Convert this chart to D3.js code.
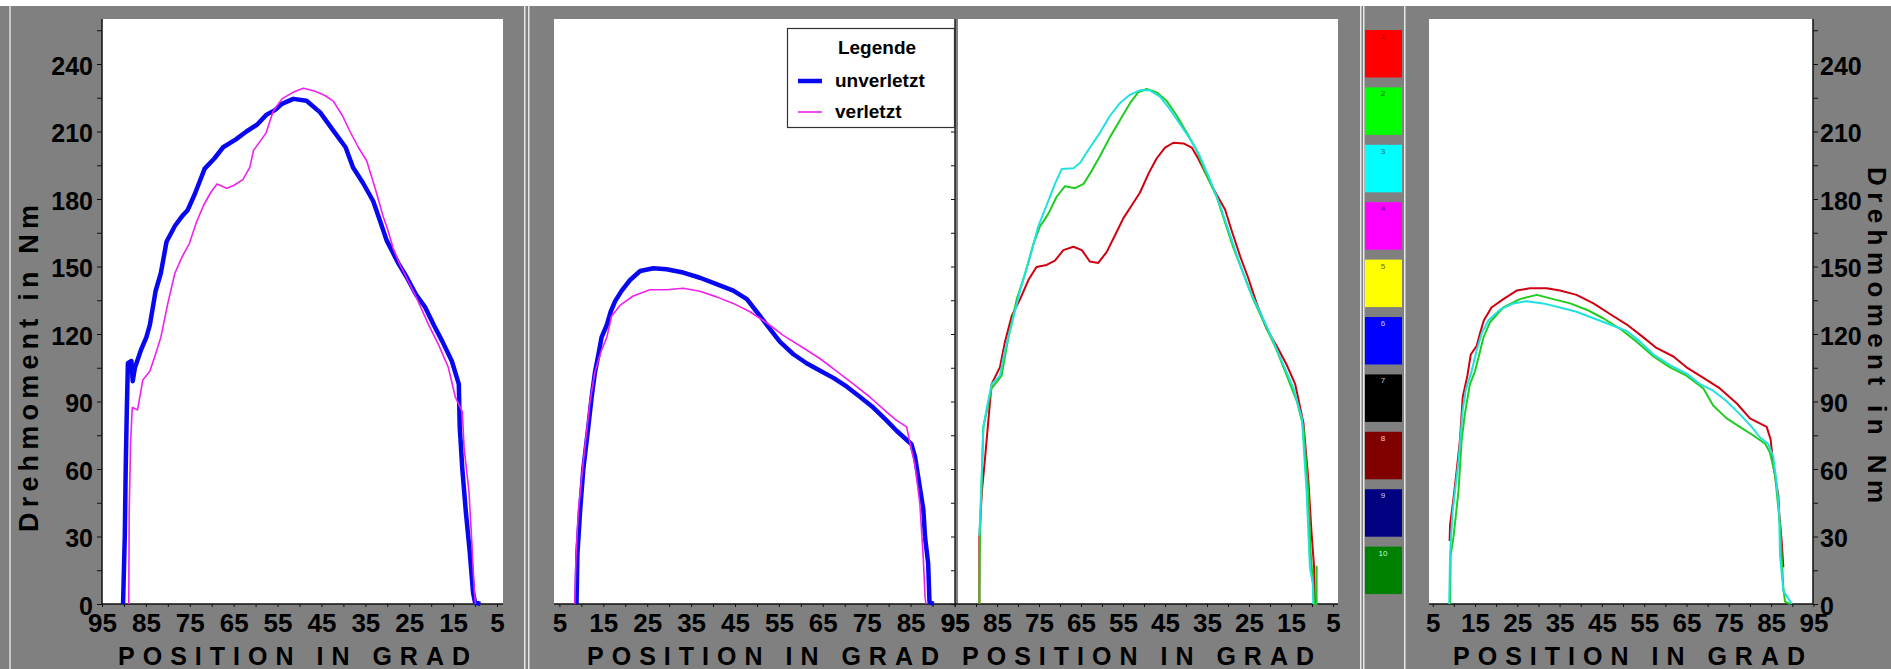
<!DOCTYPE html>
<html>
<head>
<meta charset="utf-8">
<script src="https://cdn.jsdelivr.net/npm/d3@7"></script>
<style>
  body { margin: 0; background: #fff; }
  svg { display: block; }
  text { font-family: "Liberation Sans", Arial, sans-serif; font-weight: bold; }
</style>
</head>
<body>
<div id="chart"></div>
<script>
// tick labels
var xTickLabels = [5, 15, 25, 35, 45, 55, 65, 75, 85, 95];
var yTickLabels = [0, 30, 60, 90, 120, 150, 180, 210, 240];
var legendNames = ["unverletzt", "verletzt"];
var swatchLabels = ["1", "2", "3", "4", "5", "6", "7", "8", "9", "10"];
var swatchColors = ["#ff0000", "#00ff00", "#00ffff", "#ff00ff", "#ffff00", "#0000ff", "#000000", "#800000", "#000080", "#008000"];
var swatchTextColors = ["#900", "#060", "#066", "#606", "#660", "#ccf", "#ccc", "#fcc", "#ccf", "#cfc"];

// series: [position in grad, torque in Nm]
var p1Unverletzt = [[90.2,0],[89.8,31],[89.6,60],[89.35,86],[89.1,107],[88.3,108],[88.0,99],[87.5,105],[86.1,113],[84.9,118.5],[84.1,124],[82.8,139],[81.6,147],[80.3,161],[78.4,168],[76.7,172.5],[75.5,175],[73.9,182],[72.7,188],[71.6,193.5],[69.4,198],[67.4,203],[64.5,206.5],[62.1,210],[59.7,213],[57.5,217.5],[55.6,219.5],[54.0,222.3],[51.4,224.5],[48.4,223.7],[45.3,218.5],[42.3,210.4],[39.5,203],[37.8,194],[35.5,187],[33.2,179],[31.6,170],[30.15,161.6],[27.5,151.5],[25.5,145],[23.45,137.5],[21.4,132],[19.4,124],[17.4,116.5],[15.3,108],[13.7,97.7],[13.5,79],[12.9,60],[12.1,41],[11.25,24],[10.45,5],[10.0,0.7],[8.8,0]];
var p1Verletzt = [[88.9,0],[88.8,41],[88.5,71],[88.1,87.3],[86.9,86.3],[85.7,99.6],[84.1,103.4],[82.8,111],[81.6,118.5],[80.0,133.6],[78.4,147],[76.7,154.5],[75.1,160.2],[73.5,169.6],[71.9,177],[70.2,183],[68.8,186.7],[66.6,184.8],[65.0,186],[62.9,188.6],[61.3,194.2],[60.5,201.5],[57.6,209.4],[56.0,219],[54.0,224.5],[51.5,227.4],[49.1,229.2],[46.6,228],[44.2,226],[42.3,223.5],[40.2,217],[38.5,210],[36.6,203],[34.7,197],[32.8,185],[30.9,172],[30.0,167],[28.7,158.3],[27.1,150.7],[25.1,143],[23.0,134.6],[20.6,124.2],[18.2,114.7],[16.1,105.2],[14.5,92],[12.9,85.4],[12.5,69.3],[11.4,50.3],[10.85,31.4],[10.2,6.8],[9.9,0]];
var p2Unverletzt = [[8.9,0],[9.1,22],[9.7,41],[10.45,60],[11.6,79],[12.35,92],[13.1,103],[13.9,111],[14.6,118.5],[15.8,124],[16.7,130],[17.7,134.6],[19.2,139.3],[21.1,144],[23.4,148],[26.4,149.2],[29.4,148.8],[33.2,147.3],[37.0,145],[40.8,142.2],[44.6,139.3],[47.7,135.5],[49.9,130],[52.2,124.2],[55.2,116.6],[58.3,111],[61.3,107],[64.4,103.7],[67.4,100.5],[70.4,96.7],[73.5,92],[76.5,87.3],[79.5,81.6],[81.8,77],[83.5,74],[85.2,71],[86.0,65.5],[87.1,52],[87.9,42],[88.3,29.5],[89.0,18],[89.3,1],[90.2,0]];
var p2Verletzt = [[8.5,0],[8.8,22],[9.3,41],[10.45,63.6],[11.97,90],[13.1,103.3],[14.6,112.8],[15.8,118.5],[16.9,128],[18.8,132.7],[21.8,136.9],[25.6,139.7],[29.4,139.7],[33.2,140.3],[37.0,139],[40.8,136.5],[44.6,133.6],[48.4,129.9],[52.2,125],[56.0,119.4],[60.6,113.8],[64.4,109],[68.2,103.4],[72.0,97.7],[75.7,92],[79.5,85.4],[81.8,81.6],[84.1,78.7],[84.9,71.2],[86.0,61.7],[87.1,44.7],[87.9,20],[88.3,3],[88.5,0]];
var p3Rot = [[89.2,0],[89.2,29.5],[88.6,50],[87.9,63.6],[87.1,80.6],[86.3,97.7],[84.3,105.2],[83.1,116.6],[81.5,128],[79.5,135.5],[77.5,144.1],[75.6,149.8],[73.2,150.7],[71.2,152.6],[69.2,157.3],[66.8,158.8],[64.8,157.3],[62.9,152.2],[60.9,151.6],[58.9,156.4],[56.9,163.9],[54.9,171.5],[52.9,177.2],[50.95,182.9],[48.9,191.4],[47.0,198],[45.0,202.8],[43.0,205],[40.6,204.7],[38.6,202.8],[37.1,198],[35.1,190.5],[32.7,181.9],[30.7,175.3],[29.1,165.8],[27.1,154.5],[25.2,145],[23.2,133.7],[20.8,122.3],[18.4,114.7],[16.0,106.2],[14.0,97.7],[12.05,80.6],[10.9,56],[10.1,31.4],[9.5,16.3],[9.3,0]];
var p3Gruen = [[89.2,0],[89.05,31.4],[88.25,78.7],[86.3,95.8],[83.9,101.5],[82.3,118.5],[80.3,135.5],[78.3,146.9],[76.3,160.2],[74.8,167.7],[72.8,173.4],[70.8,181],[68.8,185.7],[66.4,184.8],[64.4,186.7],[62.5,192.4],[60.5,199],[58.1,207.5],[55.7,215.1],[53.3,222.7],[51.4,227.4],[49.4,228.9],[47.0,227.4],[44.6,223.6],[42.2,217],[39.8,209.4],[37.5,201.8],[35.1,190.5],[32.7,181],[30.7,169.6],[28.7,158.3],[26.35,146.9],[24.0,135.5],[21.2,124.2],[18.4,112.8],[16.0,101.5],[13.6,90.1],[12.05,78.7],[10.9,50.3],[10.3,22],[9.7,8],[9.5,0],[8.9,0],[8.9,17]];
var p3Cyan = [[89.2,30.5],[88.65,56],[88.25,78.7],[87.1,90.1],[86.3,97.7],[84.3,101.5],[83.1,112.8],[81.5,124.2],[79.5,139.3],[77.1,154.5],[75.2,167.7],[73.2,177.2],[71.2,186.7],[69.6,193.3],[66.8,193.7],[65.2,196.1],[62.9,202.8],[60.5,209.4],[58.1,217],[55.7,222.7],[53.3,226.4],[51.0,228.3],[48.6,228.3],[46.2,225.5],[43.8,219.8],[41.4,213.2],[39.0,206.6],[36.7,199],[34.3,188.6],[31.9,177.2],[29.5,164],[27.1,150.7],[24.8,139.3],[22.4,129.9],[19.6,118.5],[16.8,106.2],[14.4,95.8],[12.4,82.5],[11.3,50.3],[10.5,16.3],[9.8,8.7],[9.7,0]];
var p4Rot = [[9.0,28],[9.1,35.2],[9.9,46.6],[10.7,59.8],[11.45,73.1],[12.1,92],[13.2,101.5],[14.0,110.9],[15.4,114.7],[16.2,120.4],[17.1,126.1],[18.9,131.8],[21.7,135.5],[24.85,139.3],[28.0,140.3],[31.9,140.3],[35.1,139.3],[39.0,137.4],[43.0,133.6],[46.9,128.9],[50.9,124.2],[54.8,118.5],[57.9,113.8],[61.9,110],[65.0,105.2],[69.0,100.5],[72.9,95.8],[76.9,89.1],[80.0,82.5],[83.95,78.7],[84.9,73.1],[85.5,61.7],[86.7,48.4],[86.9,40.9],[87.5,28],[87.9,16.3]];
var p4Gruen = [[9.1,0],[9.25,21.9],[9.9,29.5],[11.1,50.3],[11.85,73.1],[12.6,84.4],[13.8,97.7],[15.0,103.4],[16.0,110.9],[17.0,118.5],[18.5,125.1],[21.7,131.8],[25.6,135.5],[29.6,137.4],[33.5,135.5],[37.5,133.6],[41.4,130.8],[45.3,127],[49.3,122.3],[53.2,116.6],[57.2,110],[61.1,105.2],[65.0,101.5],[69.0,95.8],[71.3,88.2],[74.5,82.5],[77.6,78.7],[80.8,74.9],[83.6,71.2],[84.7,67.4],[85.9,57.9],[87.1,35.2],[87.9,6.8],[88.3,1.1],[89.5,0]];
var p4Cyan = [[8.9,0],[9.1,21.9],[9.7,40.9],[11.1,63.6],[12.1,86.3],[12.9,95.8],[14.2,103.4],[15.4,112.8],[16.6,120.4],[18.2,126.1],[20.9,130.8],[24.1,133.6],[27.2,134.6],[31.1,133.6],[35.1,131.8],[39.0,129.9],[43.0,127],[46.9,124.2],[50.9,121.3],[54.0,116.6],[57.2,110.9],[61.1,106.2],[65.0,102.4],[68.2,97.7],[71.3,94.8],[74.5,90.1],[77.6,84.4],[80.4,78.7],[82.4,74],[84.3,71.2],[85.5,65.5],[86.3,54.1],[86.9,40.9],[87.1,21.9],[87.9,5.8],[89.9,0]];

var BLUE = "#0808f0", MAG = "#f020f0", RED = "#d00010", GRN = "#20cc20", CYN = "#20e0e0";
var FONT = "'Liberation Sans', Arial, sans-serif";

var width = 1891, height = 669;
var plotTop = 19, plotBottom = 604;

var svg = d3.select("#chart").append("svg")
  .attr("width", width)
  .attr("height", height);

// background
svg.append("rect").attr("width", width).attr("height", height).attr("fill", "#fff");
svg.append("rect").attr("x", 0).attr("y", 6).attr("width", width).attr("height", height - 6).attr("fill", "#808080");
svg.append("rect").attr("x", 9).attr("y", 6).attr("width", 2).attr("height", height - 6).attr("fill", "#c8c8c8");
[524, 528, 1360, 1363, 1404].forEach(function(x) {
  svg.append("rect").attr("x", x).attr("y", 6).attr("width", 1.5).attr("height", height - 6).attr("fill", "#e8e8e8");
});

var y = d3.scaleLinear().domain([0, 260]).range([plotBottom, plotTop]);

var panels = [
  { x0: 102, x1: 503, white0: 102, dom: [95, 5], rng: [102, 497], title: 118,
    series: [{ d: p1Unverletzt, c: BLUE, w: 4.5 }, { d: p1Verletzt, c: MAG, w: 1.6 }] },
  { x0: 554, x1: 955, white0: 554, dom: [5, 95], rng: [559.4, 954.5], title: 587,
    series: [{ d: p2Unverletzt, c: BLUE, w: 4.5 }, { d: p2Verletzt, c: MAG, w: 1.6 }] },
  { x0: 955, x1: 1338, white0: 958, dom: [95, 5], rng: [955, 1333], title: 962,
    series: [{ d: p3Rot, c: RED, w: 2 }, { d: p3Gruen, c: GRN, w: 2 }, { d: p3Cyan, c: CYN, w: 2 }] },
  { x0: 1429, x1: 1813, white0: 1429, dom: [5, 95], rng: [1432.7, 1813.4], title: 1453,
    series: [{ d: p4Rot, c: RED, w: 2 }, { d: p4Gruen, c: GRN, w: 2 }, { d: p4Cyan, c: CYN, w: 2 }] }
];

var minorY = d3.range(0, 256, 15);
var minorX = d3.range(5, 96, 5);

panels.forEach(function(p, i) {
  var x = d3.scaleLinear().domain(p.dom).range(p.rng);
  var g = svg.append("g");

  g.append("rect")
    .attr("x", p.white0).attr("y", plotTop)
    .attr("width", p.x1 - p.white0).attr("height", plotBottom - plotTop)
    .attr("fill", "#fff");

  // x axis
  var xAxis = d3.axisBottom(x)
    .tickValues(minorX)
    .tickSize(3)
    .tickFormat(function(d) { return xTickLabels.indexOf(d) >= 0 ? d : ""; });
  var ax = g.append("g").attr("transform", "translate(0," + plotBottom + ")").call(xAxis);
  ax.select(".domain").remove();
  ax.selectAll(".tick line").attr("stroke", "#111");
  ax.selectAll(".tick text")
    .attr("y", 28).attr("dy", 0)
    .attr("fill", "#000")
    .style("font-size", "26px")
    .style("font-family", FONT)
    .style("font-weight", "bold");
  g.append("line")
    .attr("x1", p.x0).attr("x2", p.x1)
    .attr("y1", plotBottom).attr("y2", plotBottom)
    .attr("stroke", "#111").attr("stroke-width", 1.5);

  // x title
  g.append("text")
    .attr("x", p.title).attr("y", 665)
    .attr("textLength", 352).attr("lengthAdjust", "spacing")
    .style("font-size", "25px")
    .attr("fill", "#000")
    .text("POSITION IN GRAD");

  // curves
  var line = d3.line()
    .x(function(d) { return x(d[0]); })
    .y(function(d) { return y(d[1]); });
  p.series.forEach(function(s) {
    g.append("path")
      .datum(s.d)
      .attr("d", line)
      .attr("fill", "none")
      .attr("stroke", s.c)
      .attr("stroke-width", s.w)
      .attr("stroke-linejoin", "round");
  });
});

// y axes
function yAxisStyle(sel) {
  sel.select(".domain").remove();
  sel.selectAll(".tick line").attr("stroke", "#111");
  sel.selectAll(".tick text")
    .attr("dy", "0.4em")
    .attr("fill", "#000")
    .style("font-size", "25px")
    .style("font-family", FONT)
    .style("font-weight", "bold");
}
var fmtY = function(d) { return yTickLabels.indexOf(d) >= 0 ? d : ""; };

var yl = svg.append("g").attr("transform", "translate(102,0)")
  .call(d3.axisLeft(y).tickValues(minorY).tickSize(5).tickPadding(4).tickFormat(fmtY));
yAxisStyle(yl);
svg.append("line").attr("x1", 102).attr("x2", 102).attr("y1", plotTop).attr("y2", plotBottom)
  .attr("stroke", "#111").attr("stroke-width", 1.5);

// axis between panel 2 and 3 (no labels)
var ym = svg.append("g").attr("transform", "translate(955,0)")
  .call(d3.axisLeft(y).tickValues(minorY).tickSize(4).tickFormat(""));
yAxisStyle(ym);
svg.append("line").attr("x1", 955).attr("x2", 955).attr("y1", plotTop).attr("y2", plotBottom)
  .attr("stroke", "#222").attr("stroke-width", 1.5);

// right y axis (panel 4)
var yr = svg.append("g").attr("transform", "translate(1813,0)")
  .call(d3.axisRight(y).tickValues(minorY).tickSize(5).tickPadding(2).tickFormat(fmtY));
yAxisStyle(yr);
svg.append("line").attr("x1", 1813).attr("x2", 1813).attr("y1", plotTop).attr("y2", plotBottom)
  .attr("stroke", "#111").attr("stroke-width", 1.5);

// y titles
svg.append("text")
  .attr("transform", "translate(38,532) rotate(-90)")
  .attr("textLength", 327).attr("lengthAdjust", "spacing")
  .style("font-size", "27px").attr("fill", "#000")
  .text("Drehmoment in Nm");
svg.append("text")
  .attr("transform", "translate(1868,167) rotate(90)")
  .attr("textLength", 336).attr("lengthAdjust", "spacing")
  .style("font-size", "26px").attr("fill", "#000")
  .text("Drehmoment in Nm");

// legend box
var lg = svg.append("g");
lg.append("rect")
  .attr("x", 787.5).attr("y", 28.5).attr("width", 167).attr("height", 99)
  .attr("fill", "#fff").attr("stroke", "#333").attr("stroke-width", 1.2);
lg.append("text")
  .attr("x", 877).attr("y", 54).attr("text-anchor", "middle")
  .style("font-size", "19px").attr("fill", "#000").text("Legende");
var legendColors = [BLUE, MAG], legendWidths = [4.5, 1.6];
legendNames.forEach(function(n, i) {
  var ly = 81 + i * 31;
  lg.append("line").attr("x1", 798).attr("x2", 822).attr("y1", ly).attr("y2", ly)
    .attr("stroke", legendColors[i]).attr("stroke-width", legendWidths[i]);
  lg.append("text").attr("x", 835).attr("y", ly + 6)
    .style("font-size", "19px").attr("fill", "#000").text(n);
});

// colour swatches
var sw = svg.append("g");
swatchColors.forEach(function(c, i) {
  var sy = 30 + i * 57.4;
  sw.append("rect").attr("x", 1365).attr("y", sy).attr("width", 37).attr("height", 47.5).attr("fill", c);
  sw.append("text").attr("x", 1383).attr("y", sy + 9).attr("text-anchor", "middle")
    .style("font-size", "8px").style("font-weight", "normal")
    .attr("fill", swatchTextColors[i]).text(swatchLabels[i]);
});
</script>
</body>
</html>
